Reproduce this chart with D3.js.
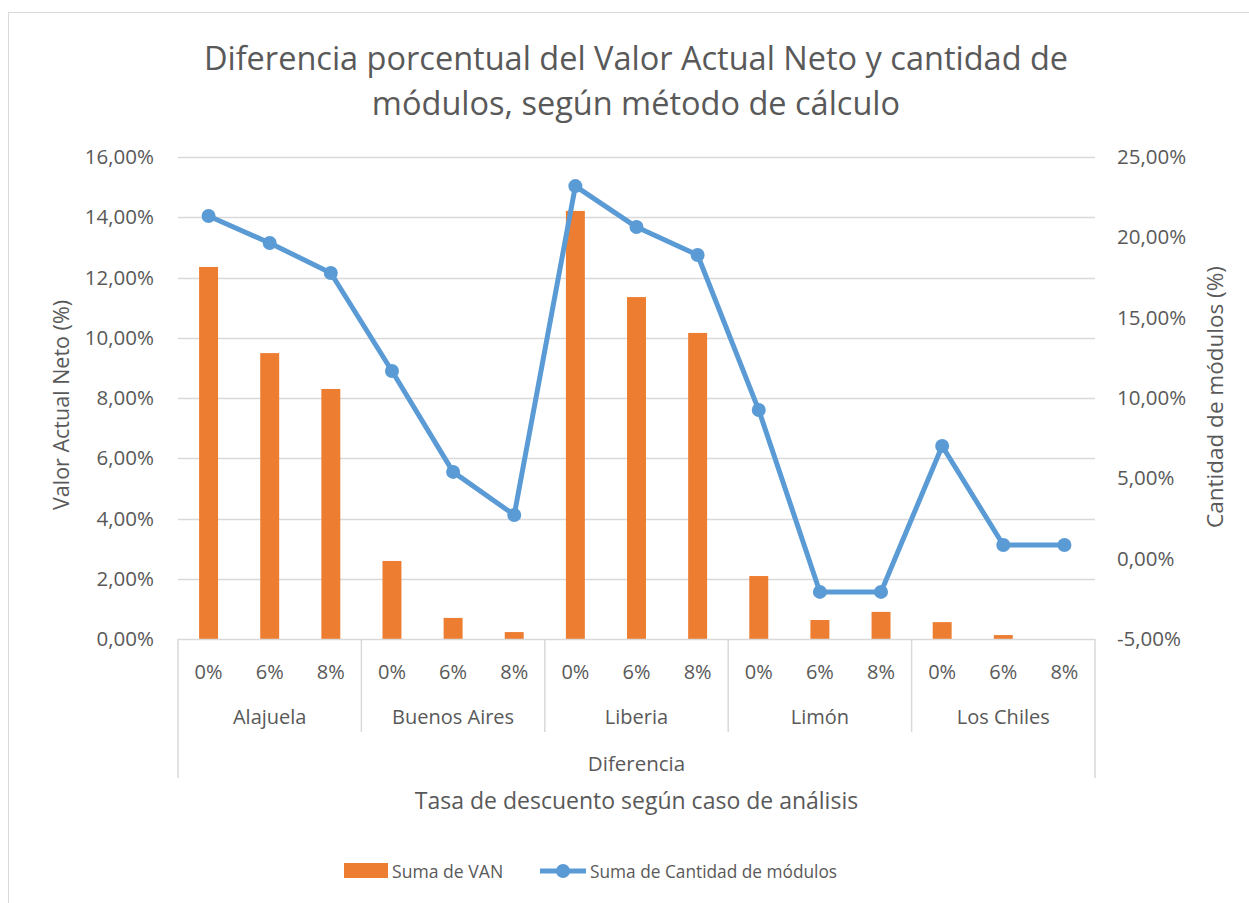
<!DOCTYPE html>
<html>
<head>
<meta charset="utf-8">
<script src="https://cdn.jsdelivr.net/npm/d3@7"></script>
<style>
  body { margin: 0; background: #fff; }
  text { font-family: "Open Sans", sans-serif; fill: #595959; }
</style>
</head>
<body>
<div id="chart"></div>
<script>
var w = 1249;
var h = 903;

// data
var groups = ["Alajuela", "Buenos Aires", "Liberia", "Limón", "Los Chiles"];
var rates = ["0%", "6%", "8%"];
var van = [12.35, 9.49, 8.30, 2.59, 0.70, 0.23, 14.21, 11.35, 10.16, 2.09, 0.63, 0.90, 0.56, 0.13, 0.0];
var modulos = [21.33, 19.65, 17.78, 11.68, 5.40, 2.72, 23.19, 20.64, 18.90, 9.25, -2.07, -2.07, 7.01, 0.85, 0.85];
var leftTicks = [0, 2, 4, 6, 8, 10, 12, 14, 16];
var rightTicks = [-5, 0, 5, 10, 15, 20, 25];

var keys = [];
groups.forEach(function(g) {
  rates.forEach(function(r) { keys.push(g + "|" + r); });
});

var pLeft = 178, pRight = 1095, pTop = 157, pBottom = 639;
var orange = "#ed7d31";
var blue = "#5b9bd5";
var grid = "#d9d9d9";

var svg = d3.select("#chart").append("svg")
  .attr("width", w)
  .attr("height", h);

svg.append("rect")
  .attr("x", 8.5).attr("y", 12.5)
  .attr("width", 1260).attr("height", 920)
  .attr("fill", "#fff")
  .attr("stroke", grid);

var x = d3.scaleBand().domain(keys).range([pLeft, pRight])
  .paddingInner(0.69).paddingOuter(0.345);
var yL = d3.scaleLinear().domain([0, 16]).range([pBottom, pTop]);
var yR = d3.scaleLinear().domain([-5, 25]).range([pBottom, pTop]);

var fmt = function(v) {
  return (v < 0 ? "-" : "") + Math.abs(v).toFixed(2).replace(".", ",") + "%";
};

// gridlines
svg.append("g").selectAll("line")
  .data(leftTicks.filter(function(d) { return d > 0; }))
  .enter().append("line")
  .attr("x1", pLeft).attr("x2", pRight)
  .attr("y1", function(d) { return Math.round(yL(d)) + 0.5; })
  .attr("y2", function(d) { return Math.round(yL(d)) + 0.5; })
  .attr("stroke", grid).attr("stroke-width", 1.5);

// left axis
var axL = svg.append("g")
  .attr("transform", "translate(" + (pLeft - 24) + ",0)")
  .call(d3.axisLeft(yL).tickValues(leftTicks).tickFormat(fmt).tickSize(0).tickPadding(0));
axL.select(".domain").remove();
axL.selectAll("text").style("font-size", "20.5px").style("font-family", "Open Sans").attr("fill", "#595959");

// right axis
var axR = svg.append("g")
  .attr("transform", "translate(" + (pRight + 22) + ",0)")
  .call(d3.axisRight(yR).tickValues(rightTicks).tickFormat(fmt).tickSize(0).tickPadding(0));
axR.select(".domain").remove();
axR.selectAll("text").style("font-size", "20.5px").style("font-family", "Open Sans").attr("fill", "#595959");

// bars
svg.append("g").selectAll("rect")
  .data(van)
  .enter().append("rect")
  .attr("x", function(d, i) { return x(keys[i]); })
  .attr("y", function(d) { return yL(d); })
  .attr("width", x.bandwidth())
  .attr("height", function(d) { return yL(0) - yL(d); })
  .attr("fill", orange);

// category axis
var cat = svg.append("g").attr("stroke", grid).attr("stroke-width", 1.5);
cat.append("line").attr("x1", pLeft).attr("x2", pRight).attr("y1", pBottom + 0.5).attr("y2", pBottom + 0.5);
var step = x.step();
groups.forEach(function(g, gi) {
  var gx = pLeft + gi * 3 * step;
  cat.append("line").attr("x1", gx).attr("x2", gx)
    .attr("y1", pBottom).attr("y2", gi === 0 ? 778 : 732);
});
cat.append("line").attr("x1", pRight).attr("x2", pRight).attr("y1", pBottom).attr("y2", 778);

svg.append("g").selectAll("text")
  .data(keys)
  .enter().append("text")
  .attr("x", function(d) { return x(d) + x.bandwidth() / 2; })
  .attr("y", 679)
  .attr("text-anchor", "middle")
  .style("font-size", "20px")
  .text(function(d) { return d.split("|")[1]; });

svg.append("g").selectAll("text")
  .data(groups)
  .enter().append("text")
  .attr("x", function(d) { return x(d + "|6%") + x.bandwidth() / 2; })
  .attr("y", 724)
  .attr("text-anchor", "middle")
  .style("font-size", "20px")
  .text(function(d) { return d; });

svg.append("text")
  .attr("x", (pLeft + pRight) / 2).attr("y", 771)
  .attr("text-anchor", "middle")
  .style("font-size", "20.5px")
  .text("Diferencia");

svg.append("text")
  .attr("x", (pLeft + pRight) / 2).attr("y", 809)
  .attr("text-anchor", "middle")
  .style("font-size", "23px")
  .text("Tasa de descuento según caso de análisis");

// line
var line = d3.line()
  .x(function(d, i) { return x(keys[i]) + x.bandwidth() / 2; })
  .y(function(d) { return yR(d); });

svg.append("path")
  .datum(modulos)
  .attr("d", line)
  .attr("fill", "none")
  .attr("stroke", blue)
  .attr("stroke-width", 5)
  .attr("stroke-linejoin", "round");

svg.append("g").selectAll("circle")
  .data(modulos)
  .enter().append("circle")
  .attr("cx", function(d, i) { return x(keys[i]) + x.bandwidth() / 2; })
  .attr("cy", function(d) { return yR(d); })
  .attr("r", 7)
  .attr("fill", blue);

// axis titles
svg.append("text")
  .attr("transform", "translate(69,405) rotate(-90)")
  .attr("text-anchor", "middle")
  .style("font-size", "21.5px")
  .text("Valor Actual Neto (%)");

svg.append("text")
  .attr("transform", "translate(1223,397) rotate(-90)")
  .attr("text-anchor", "middle")
  .style("font-size", "22.5px")
  .text("Cantidad de módulos (%)");

// title
svg.append("text")
  .attr("x", 636).attr("y", 70)
  .attr("text-anchor", "middle")
  .style("font-size", "32.5px")
  .text("Diferencia porcentual del Valor Actual Neto y cantidad de");
svg.append("text")
  .attr("x", 636).attr("y", 115)
  .attr("text-anchor", "middle")
  .style("font-size", "32.5px")
  .text("módulos, según método de cálculo");

// legend
var lg = svg.append("g");
lg.append("rect").attr("x", 344).attr("y", 863).attr("width", 44).attr("height", 15).attr("fill", orange);
lg.append("text").attr("x", 392).attr("y", 878).style("font-size", "17.6px").text("Suma de VAN");
lg.append("line").attr("x1", 540).attr("x2", 586).attr("y1", 871).attr("y2", 871)
  .attr("stroke", blue).attr("stroke-width", 5);
lg.append("circle").attr("cx", 563).attr("cy", 871).attr("r", 7).attr("fill", blue);
lg.append("text").attr("x", 590).attr("y", 878).style("font-size", "17.3px").text("Suma de Cantidad de módulos");
</script>
</body>
</html>
